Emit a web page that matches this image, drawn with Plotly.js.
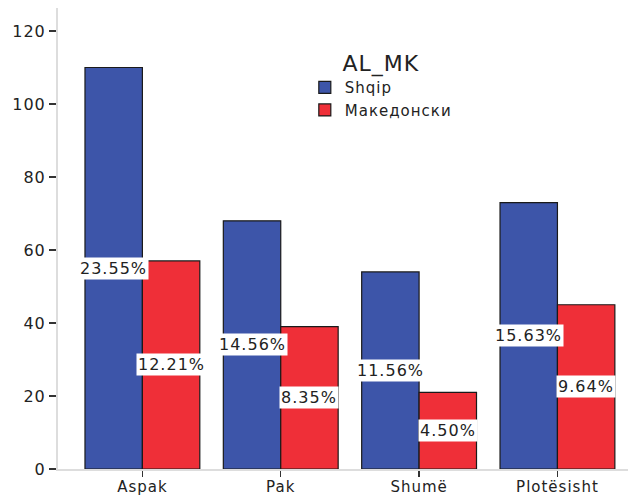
<!DOCTYPE html>
<html><head><meta charset="utf-8">
<script src="https://cdn.plot.ly/plotly-3.0.1.min.js"></script>
<style>html,body{margin:0;padding:0;background:#fff} svg text{letter-spacing:1px}</style>
</head><body>
<div id="chart" style="width:630px;height:498px"></div>
<script>
var categories = ['Aspak', 'Pak', 'Shumë', 'Plotësisht'];
var shqipValues = [110, 68, 54, 73];
var makedonskiValues = [57, 39, 21, 45];
var shqipPct = ['23.55%', '14.56%', '11.56%', '15.63%'];
var makedonskiPct = ['12.21%', '8.35%', '4.50%', '9.64%'];
var yTicks = [0, 20, 40, 60, 80, 100, 120];

var FONT = 'DejaVu Sans, Arial, sans-serif';
var bargap = 0.17;
var off = (1 - bargap) / 4;

var traces = [
  {type: 'bar', name: 'Shqip', x: categories, y: shqipValues,
   marker: {color: '#3d55a9', line: {color: '#1a1a1a', width: 1.2}}},
  {type: 'bar', name: 'Македонски', x: categories, y: makedonskiValues,
   marker: {color: '#ef2f38', line: {color: '#1a1a1a', width: 1.2}}}
];

var annotations = [];
function addLabels(vals, pcts, dx) {
  vals.forEach(function (v, i) {
    annotations.push({x: i + dx, y: v / 2, xref: 'x', yref: 'y', text: pcts[i],
      showarrow: false, bgcolor: '#ffffff', borderpad: 1,
      font: {family: FONT, size: 16, color: '#222'}});
  });
}
addLabels(shqipValues, shqipPct, -off);
addLabels(makedonskiValues, makedonskiPct, off);

var layout = {
  width: 630, height: 498,
  margin: {l: 58, r: 2, t: 8, b: 29},
  paper_bgcolor: '#fff', plot_bgcolor: '#fff',
  barmode: 'group', bargap: bargap, bargroupgap: 0,
  font: {family: FONT, size: 16, color: '#222'},
  showlegend: true,
  legend: {x: 0.433, y: 0.925, xanchor: 'left', yanchor: 'top',
    bgcolor: 'rgba(0,0,0,0)', tracegroupgap: 0,
    title: {text: 'AL_MK', side: 'top center', font: {size: 22, color: '#222'}},
    font: {size: 15, color: '#222'}, itemwidth: 30},
  xaxis: {type: 'category', range: [-0.61, 3.51], showgrid: false,
    showline: true, linecolor: '#dddddd', linewidth: 2,
    ticks: 'outside', ticklen: 6, tickcolor: '#333', tickwidth: 1.5,
    ticklabelstandoff: -3,
    tickfont: {size: 15, color: '#222'}, zeroline: false},
  yaxis: {range: [0, 126.3], tickvals: yTicks, showgrid: false,
    showline: true, linecolor: '#dddddd', linewidth: 2,
    ticks: 'outside', ticklen: 7, tickcolor: '#333', tickwidth: 1.5,
    tickfont: {size: 16, color: '#222'}, zeroline: false},
  annotations: annotations
};

Plotly.newPlot('chart', traces, layout, {displayModeBar: false, staticPlot: true});
</script>
</body></html>
